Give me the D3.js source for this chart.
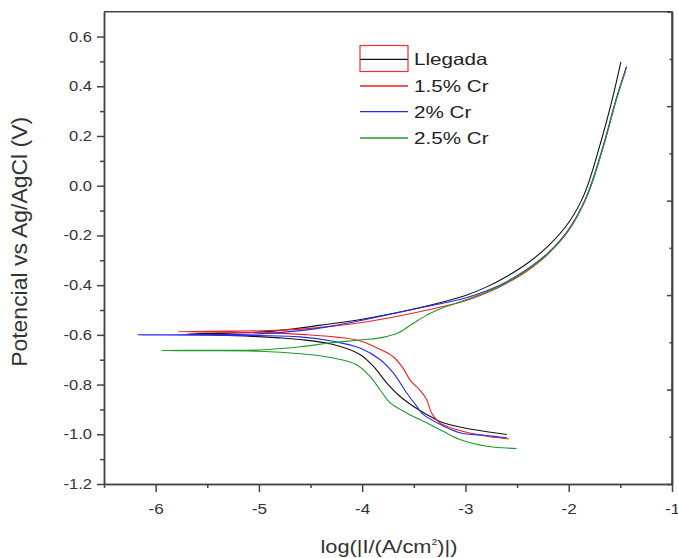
<!DOCTYPE html>
<html>
<head>
<meta charset="utf-8">
<script src="https://cdn.jsdelivr.net/npm/d3@7"></script>
<style>
  body { margin: 0; background: #fff; }
  text { font-family: "Liberation Sans", Arial, sans-serif; }
</style>
</head>
<body>
<div id="container"></div>
<script>
/* CONSTANTS AND GLOBALS */
const width = 678,
  height = 558,
  margin = { top: 11.7, bottom: 74, left: 104, right: 6 };

// DATA: [log|I|, E (V)] from cathodic end, through the corrosion "nose", to anodic end
const llegada = [
  [-2.60, -1.001], [-2.925, -0.981], [-3.216, -0.954], [-3.376, -0.920], [-3.506, -0.887],
  [-3.635, -0.847], [-3.763, -0.793], [-3.893, -0.726], [-4.022, -0.679], [-4.28, -0.639],
  [-4.603, -0.619], [-4.8, -0.612], [-5.1, -0.605], [-5.4, -0.601],
  [-5.7, -0.597],
  [-5.4, -0.594], [-5.0, -0.589], [-4.7, -0.578], [-4.4, -0.561], [-4.0, -0.537],
  [-3.6, -0.505], [-3.2, -0.466], [-3.0, -0.442], [-2.8, -0.408], [-2.6, -0.365],
  [-2.4, -0.312], [-2.2, -0.243], [-2.0, -0.148], [-1.85, -0.035], [-1.7, 0.16],
  [-1.58, 0.345], [-1.495, 0.498]
];

const cr15 = [
  [-2.58, -1.019], [-2.795, -1.008], [-3.086, -0.981], [-3.247, -0.954], [-3.328, -0.914],
  [-3.376, -0.860], [-3.441, -0.822], [-3.53, -0.785], [-3.603, -0.735], [-3.699, -0.688],
  [-3.860, -0.652], [-4.022, -0.624], [-4.25, -0.609], [-4.55, -0.599], [-4.9, -0.592], [-5.3, -0.589],
  [-5.78, -0.587],
  [-5.3, -0.585], [-4.9, -0.583], [-4.5, -0.574], [-4.0, -0.55], [-3.5, -0.512],
  [-3.0, -0.463], [-2.8, -0.432], [-2.6, -0.392], [-2.4, -0.342], [-2.2, -0.275],
  [-2.0, -0.18], [-1.83, -0.05], [-1.67, 0.15], [-1.54, 0.345], [-1.44, 0.48]
];

const cr20 = [
  [-2.6, -1.014], [-2.8, -1.005], [-3.054, -0.994], [-3.247, -0.960], [-3.409, -0.920],
  [-3.473, -0.887], [-3.570, -0.833], [-3.699, -0.753], [-3.828, -0.699], [-4.022, -0.653],
  [-4.28, -0.626], [-4.603, -0.608], [-5.0, -0.603], [-5.6, -0.601],
  [-6.17, -0.600],
  [-5.6, -0.599], [-5.0, -0.596], [-4.6, -0.583], [-4.3, -0.565], [-4.0, -0.541],
  [-3.5, -0.497], [-3.0, -0.452], [-2.8, -0.424], [-2.6, -0.386], [-2.4, -0.335],
  [-2.2, -0.27], [-2.0, -0.175], [-1.83, -0.045], [-1.67, 0.155], [-1.54, 0.35], [-1.44, 0.478]
];

const cr25 = [
  [-2.505, -1.057], [-2.795, -1.048], [-3.054, -1.021], [-3.216, -0.988], [-3.376, -0.954],
  [-3.570, -0.914], [-3.731, -0.873], [-3.828, -0.820], [-3.925, -0.767], [-4.054, -0.720],
  [-4.28, -0.693], [-4.603, -0.676], [-5.0, -0.666], [-5.5, -0.664],
  [-5.94, -0.663],
  [-5.5, -0.662], [-5.0, -0.661], [-4.6, -0.648], [-4.3, -0.632], [-4.0, -0.62],
  [-3.8, -0.61], [-3.65, -0.592], [-3.5, -0.552], [-3.35, -0.515], [-3.2, -0.488],
  [-3.0, -0.46], [-2.8, -0.428], [-2.6, -0.389], [-2.4, -0.338], [-2.2, -0.272],
  [-2.0, -0.177], [-1.83, -0.048], [-1.67, 0.15], [-1.54, 0.345], [-1.45, 0.46]
];

const seriesNames = ["Llegada", "1.5% Cr", "2% Cr", "2.5% Cr"];
const seriesColors = ["#111111", "#ee2020", "#2828ee", "#1f9a2a"];
const seriesData = [llegada, cr15, cr20, cr25];

const xTicks = [-6, -5, -4, -3, -2, -1];
const xMinor = [-6.5, -5.5, -4.5, -3.5, -2.5, -1.5];
const yTicks = [-1.2, -1.0, -0.8, -0.6, -0.4, -0.2, 0.0, 0.2, 0.4, 0.6];
const yMinor = [-1.1, -0.9, -0.7, -0.5, -0.3, -0.1, 0.1, 0.3, 0.5];
// right-hand axis: unlabelled inward ticks splitting the height in ten
const rightTicks = [0, 2, 4, 6, 8, 10];
const rightMinor = [1, 3, 5, 7, 9];

// the original picture has its text a bit wider than Arial
const textStretch = 1.18;
function stretch(sel, k) {
  sel.each(function () {
    const w = this.getComputedTextLength();
    d3.select(this).attr("textLength", w * k).attr("lengthAdjust", "spacingAndGlyphs");
  });
}

// APPEND SVG
const svg = d3.select("#container")
  .append("svg")
  .attr("width", width)
  .attr("height", height)

// SCALES
const xScale = d3.scaleLinear()
  .domain([-6.5, -1])
  .range([margin.left, width - margin.right])

const yScale = d3.scaleLinear()
  .domain([-1.2, 0.7])
  .range([height - margin.bottom, margin.top])

const rScale = d3.scaleLinear()
  .domain([0, 10])
  .range([height - margin.bottom, margin.top])

// LINES
const lineGen = d3.line()
  .x(d => xScale(d[0]))
  .y(d => yScale(d[1]))
  .curve(d3.curveCatmullRom.alpha(0.5))

svg.selectAll("path.curve")
  .data(seriesData)
  .join("path")
  .attr("class", "curve")
  .attr("d", d => lineGen(d))
  .attr("fill", "none")
  .attr("stroke", (d, i) => seriesColors[i])
  .attr("stroke-width", 1.1)

// AXES
const axisColor = "#444";

const xAxis = svg.append("g")
  .attr("transform", `translate(0, ${height - margin.bottom})`)
  .call(d3.axisBottom(xScale).tickValues(xTicks).tickFormat(d => String(d)).tickSize(8).tickSizeOuter(0))
svg.append("g")
  .attr("transform", `translate(0, ${height - margin.bottom})`)
  .call(d3.axisBottom(xScale).tickValues(xMinor).tickFormat("").tickSize(4).tickSizeOuter(0))

const yAxis = svg.append("g")
  .attr("transform", `translate(${margin.left}, 0)`)
  .call(d3.axisLeft(yScale).tickValues(yTicks).tickFormat(d => d.toFixed(1)).tickSize(7).tickSizeOuter(0))
svg.append("g")
  .attr("transform", `translate(${margin.left}, 0)`)
  .call(d3.axisLeft(yScale).tickValues(yMinor).tickFormat("").tickSize(4).tickSizeOuter(0))

svg.append("g")
  .attr("transform", `translate(${width - margin.right}, 0)`)
  .call(d3.axisLeft(rScale).tickValues(rightTicks).tickFormat("").tickSize(5).tickSizeOuter(0))
svg.append("g")
  .attr("transform", `translate(${width - margin.right}, 0)`)
  .call(d3.axisLeft(rScale).tickValues(rightMinor).tickFormat("").tickSize(2.5).tickSizeOuter(0))

svg.selectAll(".domain, .tick line")
  .attr("stroke", axisColor)
  .attr("stroke-width", 1.5)

svg.selectAll(".tick text")
  .attr("fill", "#333")
  .style("font-family", "'Liberation Sans', Arial, sans-serif")

xAxis.selectAll(".tick text").attr("dy", "1.3em").style("font-size", "14.5px")
yAxis.selectAll(".tick text").attr("dx", "-0.15em").style("font-size", "14px")
stretch(xAxis.selectAll(".tick text"), textStretch)
stretch(yAxis.selectAll(".tick text"), textStretch)

// FRAME (top and right)
svg.append("path")
  .attr("d", `M${xScale(-6.5)},${yScale(0.7)}H${xScale(-1)}V${yScale(-1.2)}`)
  .attr("fill", "none")
  .attr("stroke", axisColor)
  .attr("stroke-width", 1.5)

// AXIS TITLES
const yTitle = svg.append("text")
  .attr("transform", `translate(27, ${(margin.top + height - margin.bottom) / 2 - 6}) rotate(-90) scale(1, 1.12)`)
  .attr("text-anchor", "middle")
  .attr("fill", "#333")
  .style("font-size", "20px")
  .text("Potencial vs Ag/AgCl (V)")
yTitle.attr("textLength", 250).attr("lengthAdjust", "spacingAndGlyphs")

const xTitle = svg.append("text")
  .attr("x", 389)
  .attr("y", 553)
  .attr("text-anchor", "middle")
  .attr("fill", "#333")
  .style("font-size", "18.5px")
xTitle.append("tspan").text("log(|I/(A/cm")
xTitle.append("tspan").attr("dy", -8).style("font-size", "9px").text("2")
xTitle.append("tspan").attr("dy", 8).text(")|)")
xTitle.attr("textLength", 137).attr("lengthAdjust", "spacingAndGlyphs")

// LEGEND
const legend = svg.append("g")
const legendY = [59.3, 86, 111.7, 138];
legend.selectAll("line")
  .data(seriesNames)
  .join("line")
  .attr("x1", 360)
  .attr("x2", 408)
  .attr("y1", (d, i) => legendY[i])
  .attr("y2", (d, i) => legendY[i])
  .attr("stroke", (d, i) => seriesColors[i])
  .attr("stroke-width", 1.3)

legend.append("rect")
  .attr("x", 360)
  .attr("y", 45.5)
  .attr("width", 48)
  .attr("height", 26)
  .attr("fill", "none")
  .attr("stroke", "#ee3030")
  .attr("stroke-width", 1.2)

const legendText = legend.selectAll("text")
  .data(seriesNames)
  .join("text")
  .attr("x", 414)
  .attr("y", (d, i) => legendY[i] + 6)
  .attr("fill", "#222")
  .style("font-size", "16.5px")
  .text(d => d)
stretch(legendText, 1.25)
</script>
</body>
</html>
